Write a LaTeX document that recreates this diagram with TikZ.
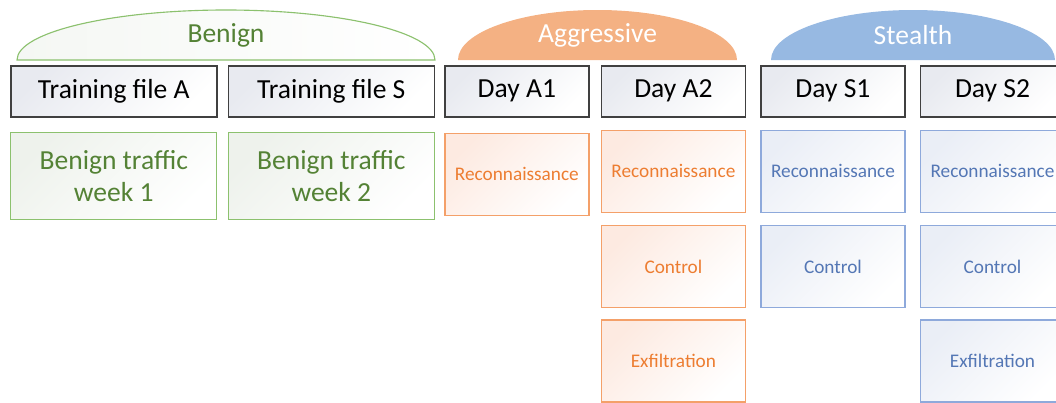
\documentclass[tikz,border=0pt]{standalone}
\usepackage{fontspec}
\setmainfont{Carlito}
\usepackage{tikz}
\usetikzlibrary{positioning}
\definecolor{HeadBorder}{RGB}{64,64,64}
\definecolor{HeadShade}{RGB}{232,234,240}
\definecolor{BenignLine}{RGB}{140,193,110}
\definecolor{BenignText}{RGB}{84,130,53}
\definecolor{BenignShade}{RGB}{238,242,236}
\definecolor{AggrFill}{RGB}{244,177,131}
\definecolor{AggrLine}{RGB}{244,160,105}
\definecolor{AggrText}{RGB}{237,125,49}
\definecolor{AggrShade}{RGB}{253,234,225}
\definecolor{StealthFill}{RGB}{151,185,226}
\definecolor{StealthLine}{RGB}{142,169,219}
\definecolor{StealthText}{RGB}{84,119,181}
\definecolor{StealthShade}{RGB}{234,238,246}

\begin{document}
\begin{tikzpicture}[font=\fontsize{19.6}{23}\selectfont,
    header/.style={draw=HeadBorder, line width=1.1pt, top color=HeadShade, bottom color=white, shading angle=45, minimum width=3.6cm, minimum height=1.275cm, inner sep=0pt},
    wide/.style={minimum width=5.15cm},
    benignbox/.style={draw=BenignLine, line width=1pt, top color=BenignShade, bottom color=white, shading angle=45, text=BenignText, align=center, minimum width=5.15cm, minimum height=2.175cm, inner sep=0pt},
    stagebox/.style={line width=1pt, shading angle=45, bottom color=white, font=\fontsize{13.7}{16}\selectfont, minimum width=3.6cm, minimum height=2.05cm, inner sep=0pt},
    aggrbox/.style={stagebox, draw=AggrLine, top color=AggrShade, shading angle=45, text=AggrText},
    stealthbox/.style={stagebox, draw=StealthLine, top color=StealthShade, shading angle=45, text=StealthText},
    grouptext/.style={inner sep=0pt}]
    \useasboundingbox (0,0) rectangle (26.4,-10.075);
    \clip (0,0) rectangle (26.4,-10.075);

    % group domes
    \draw [draw=BenignLine, line width=0.8pt, left color=BenignShade!60, right color=white] (0.425,-1.5) arc[start angle=180, end angle=0, x radius=5.225cm, y radius=1.25cm] -- cycle;
    \fill [AggrFill] (11.45,-1.5) arc[start angle=180, end angle=0, x radius=3.4875cm, y radius=1.25cm] -- cycle;
    \fill [StealthFill] (19.275,-1.5) arc[start angle=180, end angle=0, x radius=3.55cm, y radius=1.25cm] -- cycle;
    \node [grouptext, text=BenignText] (benign) at (5.65,-0.875) {Benign};
    \node [grouptext, text=white] (aggressive) at (14.9375,-0.875) {Aggressive};
    \node [grouptext, text=white] (stealth) at (22.825,-0.875) {Stealth};

    % file headers
    \node [header, wide, anchor=north west] (fileA) at (0.25,-1.625) {Training file A};
    \node [header, wide, right=0.25cm of fileA] (fileS) {Training file S};
    \node [header, right=0.225cm of fileS] (dayA1) {Day A1};
    \node [header, right=0.275cm of dayA1] (dayA2) {Day A2};
    \node [header, right=0.35cm of dayA2] (dayS1) {Day S1};
    \node [header, right=0.35cm of dayS1] (dayS2) {Day S2};

    % contents
    \node [benignbox, below=0.35cm of fileA] (weekA) {Benign traffic\\week 1};
    \node [benignbox, below=0.35cm of fileS] (weekS) {Benign traffic\\week 2};
    \node [aggrbox, below=0.375cm of dayA1] (reconA1) {Reconnaissance};
    \node [aggrbox, below=0.3cm of dayA2] (reconA2) {Reconnaissance};
    \node [aggrbox, below=0.3cm of reconA2] (ctrlA2) {Control};
    \node [aggrbox, below=0.275cm of ctrlA2] (exfilA2) {Exfiltration};
    \node [stealthbox, below=0.3cm of dayS1] (reconS1) {Reconnaissance};
    \node [stealthbox, below=0.3cm of reconS1] (ctrlS1) {Control};
    \node [stealthbox, below=0.3cm of dayS2] (reconS2) {Reconnaissance};
    \node [stealthbox, below=0.3cm of reconS2] (ctrlS2) {Control};
    \node [stealthbox, below=0.275cm of ctrlS2] (exfilS2) {Exfiltration};
\end{tikzpicture}
\end{document}
